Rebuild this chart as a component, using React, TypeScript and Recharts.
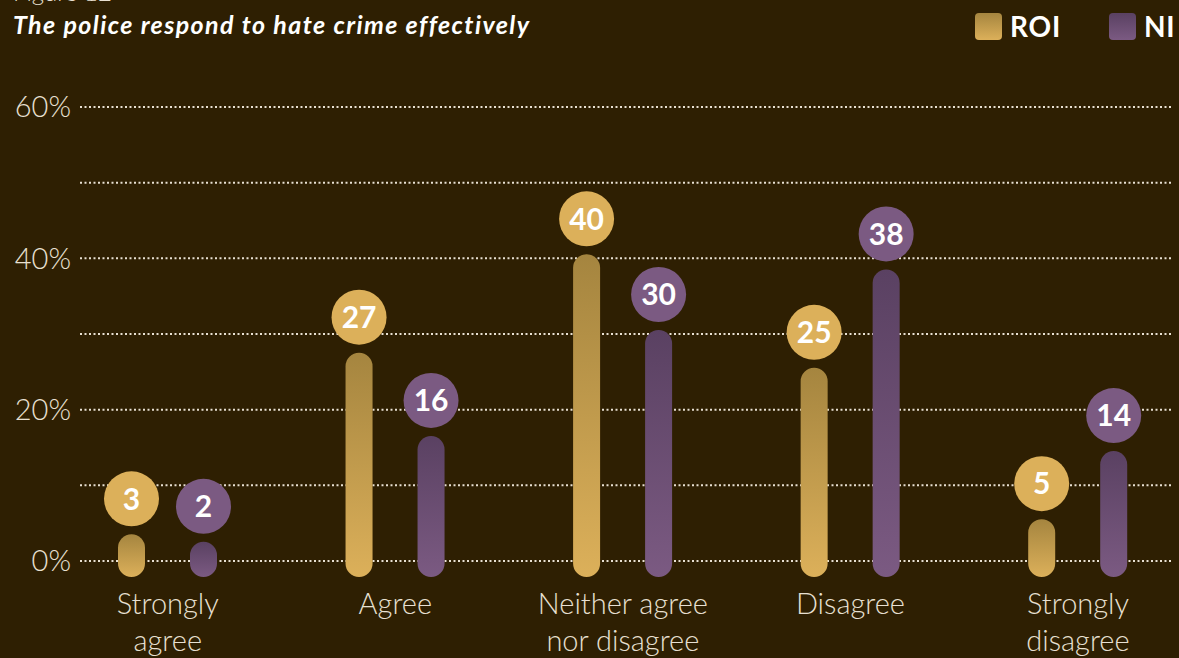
import React from 'react';
import { BarChart, Bar, XAxis, YAxis, CartesianGrid, LabelList } from 'recharts';

// ─── Data ─────────────────────────────────────────────────────────────────────

const CATEGORIES = [
  'Strongly agree',
  'Agree',
  'Neither agree nor disagree',
  'Disagree',
  'Strongly disagree',
];
const ROI_VALUES = [3, 27, 40, 25, 5];
const NI_VALUES = [2, 16, 30, 38, 14];
const Y_TICKS = [0, 10, 20, 30, 40, 50, 60];
const Y_LABELED = [0, 20, 40, 60];
const CATEGORY_LINES: Record<string, string[]> = {
  'Strongly agree': ['Strongly', 'agree'],
  Agree: ['Agree'],
  'Neither agree nor disagree': ['Neither agree', 'nor disagree'],
  Disagree: ['Disagree'],
  'Strongly disagree': ['Strongly', 'disagree'],
};

const data = CATEGORIES.map((category, i) => ({
  category,
  roi: ROI_VALUES[i],
  ni: NI_VALUES[i],
}));

// ─── Colours ──────────────────────────────────────────────────────────────────

const BG = '#2e1f02';
const GOLD = '#dcb05a';
const GOLD_TOP = '#a5853f';
const PURPLE = '#7b5a82';
const PURPLE_TOP = '#5a4162';
const TEXT = '#e8e0d2';
const FONT = 'Lato, "Open Sans", sans-serif';

// ─── Marks ────────────────────────────────────────────────────────────────────

function PillBar(props: any): React.ReactElement {
  const { x, y, width, height, gradId } = props;
  return (
    <rect
      x={x}
      y={y - 4}
      width={width}
      height={height + 20}
      rx={width / 2}
      ry={width / 2}
      fill={`url(#${gradId})`}
    />
  );
}

function ValueBubble(props: any): React.ReactElement {
  const { x, y, width, value, color } = props;
  const cx = Number(x) + Number(width) / 2;
  const cy = Number(y) - 39.5;
  return (
    <g>
      <circle cx={cx} cy={cy} r={27.5} fill={color} />
      <text
        x={cx}
        y={cy}
        dy="0.36em"
        textAnchor="middle"
        fontFamily={FONT}
        fontWeight={700}
        fontSize={30}
        fill="#ffffff"
      >
        {value}
      </text>
    </g>
  );
}

function CategoryTick(props: any): React.ReactElement {
  const { x, payload } = props;
  const lines = CATEGORY_LINES[payload.value] ?? [payload.value];
  return (
    <text textAnchor="middle" fontFamily={FONT} fontWeight={300} fontSize={29} fill={TEXT}>
      {lines.map((line, i) => (
        <tspan key={line} x={x} y={614 + i * 37}>
          {line}
        </tspan>
      ))}
    </text>
  );
}

function PercentTick(props: any): React.ReactElement | null {
  const { y, payload } = props;
  if (!Y_LABELED.includes(payload.value)) return null;
  return (
    <text
      x={71}
      y={y}
      dy="0.36em"
      textAnchor="end"
      fontFamily={FONT}
      fontWeight={300}
      fontSize={29}
      fill={TEXT}
    >
      {`${payload.value}%`}
    </text>
  );
}

// ─── Component ────────────────────────────────────────────────────────────────

export default function App(): React.ReactElement {
  return (
    <div
      style={{
        position: 'absolute',
        left: 0,
        top: 0,
        width: 1179,
        height: 658,
        overflow: 'hidden',
        background: BG,
        fontFamily: FONT,
      }}
    >
      <div
        style={{
          position: 'absolute',
          left: 13,
          top: -22,
          fontSize: 24,
          fontWeight: 300,
          color: TEXT,
          lineHeight: '28px',
        }}
      >
        Figure 12
      </div>
      <div
        style={{
          position: 'absolute',
          left: 13,
          top: 8,
          fontSize: 25,
          fontWeight: 700,
          fontStyle: 'italic',
          letterSpacing: 1.4,
          color: '#ffffff',
          lineHeight: '32px',
          whiteSpace: 'nowrap',
        }}
      >
        The police respond to hate crime effectively
      </div>

      {/* Legend */}
      {[
        { name: 'ROI', left: 975, top: GOLD_TOP, bottom: GOLD },
        { name: 'NI', left: 1109, top: PURPLE_TOP, bottom: PURPLE },
      ].map((item) => (
        <div
          key={item.name}
          style={{
            position: 'absolute',
            left: item.left,
            top: 10,
            display: 'flex',
            alignItems: 'center',
            whiteSpace: 'nowrap',
          }}
        >
          <div
            style={{
              width: 27,
              height: 27,
              borderRadius: 4,
              background: `linear-gradient(${item.top}, ${item.bottom})`,
              marginRight: 8,
            }}
          />
          <span
            style={{
              fontSize: 28,
              fontWeight: 700,
              color: '#ffffff',
              lineHeight: '32px',
              letterSpacing: 0.8,
            }}
          >
            {item.name}
          </span>
        </div>
      ))}

      <div style={{ position: 'absolute', left: 0, top: 0 }}>
        <BarChart
          width={1200}
          height={658}
          data={data}
          margin={{ top: 107, right: 8.25, bottom: 0, left: 0 }}
          barSize={27}
          barGap={45}
        >
          <defs>
            <linearGradient id="gROI" x1="0" y1="0" x2="0" y2="1">
              <stop offset="0%" stopColor={GOLD_TOP} />
              <stop offset="100%" stopColor={GOLD} />
            </linearGradient>
            <linearGradient id="gNI" x1="0" y1="0" x2="0" y2="1">
              <stop offset="0%" stopColor={PURPLE_TOP} />
              <stop offset="100%" stopColor={PURPLE} />
            </linearGradient>
          </defs>
          <CartesianGrid
            x={80}
            width={1093}
            vertical={false}
            stroke="#e8e0d2"
            strokeWidth={2}
            strokeDasharray="2 2.5"
          />
          <XAxis
            dataKey="category"
            axisLine={false}
            tickLine={false}
            height={97}
            interval={0}
            tick={<CategoryTick />}
          />
          <YAxis
            domain={[0, 60]}
            ticks={Y_TICKS}
            axisLine={false}
            tickLine={false}
            width={54}
            tick={<PercentTick />}
          />
          <Bar
            dataKey="roi"
            isAnimationActive={false}
            shape={(p: any) => <PillBar {...p} gradId="gROI" />}
          >
            <LabelList dataKey="roi" content={(p: any) => <ValueBubble {...p} color={GOLD} />} />
          </Bar>
          <Bar
            dataKey="ni"
            isAnimationActive={false}
            shape={(p: any) => <PillBar {...p} gradId="gNI" />}
          >
            <LabelList dataKey="ni" content={(p: any) => <ValueBubble {...p} color={PURPLE} />} />
          </Bar>
        </BarChart>
      </div>
    </div>
  );
}
